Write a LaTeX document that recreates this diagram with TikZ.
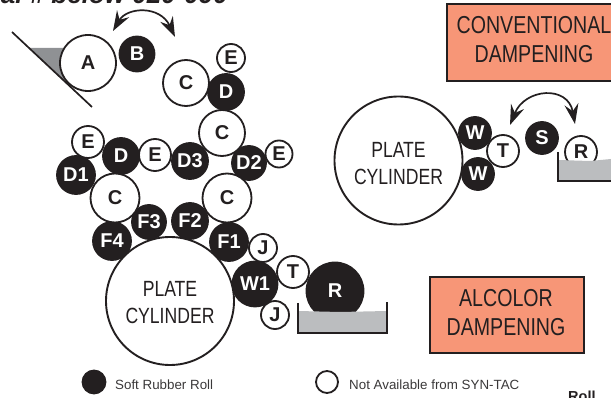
\documentclass[tikz,border=0pt]{standalone}
\usepackage{graphicx}
\usepackage{fontspec}
\setmainfont{Liberation Sans}
\usetikzlibrary{arrows.meta}
\definecolor{ink}{HTML}{231F20}
\definecolor{salmon}{HTML}{F79677}
\definecolor{bath}{HTML}{BBBDBF}
\definecolor{wedge}{HTML}{8F9194}
\definecolor{legendgray}{HTML}{3A3839}
\tikzset{
  softroll/.style={circle,draw=ink,fill=ink,line width=1.8pt,inner sep=0pt,text=white,font=\fontsize{20}{20}\selectfont\bfseries},
  hardroll/.style={circle,draw=ink,fill=white,line width=1.8pt,inner sep=0pt,text=ink,font=\fontsize{20}{20}\selectfont\bfseries},
  platecyl/.style={circle,draw=ink,fill=white,line width=1.9pt,inner sep=0pt,minimum size=128pt},
  platetext/.style={text=ink,font=\fontsize{22}{27}\selectfont,align=center},
  titlebox/.style={draw=ink,fill=salmon,line width=2pt,inner sep=0pt},
  boxtext/.style={text=ink,font=\fontsize{24.5}{29}\selectfont,align=center},
  legendtext/.style={text=legendgray,font=\fontsize{13.35}{13.35}\selectfont,anchor=base west},
  swing/.style={draw=ink,line width=1.7pt,{Stealth[length=20pt,width=14pt,inset=7pt]}-{Stealth[length=20pt,width=14pt,inset=7pt]}},
  tray/.style={draw=ink,line width=1.8pt}
}
\newcommand{\narrow}[1]{\scalebox{0.8}[1]{#1}}
\begin{document}
\begin{tikzpicture}[x=1pt,y=-1pt]
\useasboundingbox (0,0) rectangle (611,398);
\clip (0,0) rectangle (611,398);
% clipped heading
\node[anchor=base east,inner sep=0pt,text=ink,font=\fontsize{26}{26}\selectfont\bfseries\itshape] (heading) at (228,4) {ial \# below 020-090};
% doctor blade and wedge
\fill[wedge] (30,48) -- (68,48) -- (68,80) -- (63,80) -- cycle;
\coordinate (bladetop) at (12,32);
\coordinate (bladeend) at (92,107);
\draw[ink,line width=1.7pt] (bladetop) -- (bladeend);
% left arrow
\coordinate (swingAa) at (113,31);
\coordinate (swingAb) at (175,37);
\draw[swing] (swingAa) .. controls (127,7) and (160,5) .. (swingAb);
% soft rolls
\node[softroll,minimum size=35pt] (B) at (137,54) {B};
\node[softroll,minimum size=36pt] (Dtop) at (226,92) {D};
\node[softroll,minimum size=36pt] (Dmid) at (121,156) {D};
\node[softroll,minimum size=36pt] (D3) at (190,161) {D3};
\node[softroll,minimum size=34pt] (D2) at (249,163) {D2};
\node[softroll,minimum size=38pt] (D1) at (76,175) {D1};
\node[softroll,minimum size=34pt] (F3) at (149,222) {F3};
\node[softroll,minimum size=36pt] (F2) at (190,221) {F2};
\node[softroll,minimum size=38pt] (F4) at (112,241) {F4};
\node[softroll,minimum size=38pt] (F1) at (229,242) {F1};
\node[softroll,minimum size=45pt] (W1) at (255,284) {W1};
% hard rolls
\node[hardroll,minimum size=56pt] (A) at (88,63) {A};
\node[hardroll,minimum size=46pt] (Ca) at (186,83) {C};
\node[hardroll,minimum size=28pt] (Ea) at (231,58) {E};
\node[hardroll,minimum size=46pt] (Cb) at (222,133) {C};
\node[hardroll,minimum size=32pt] (Eb) at (88,142) {E};
\node[hardroll,minimum size=32pt] (Ec) at (155,155) {E};
\node[hardroll,minimum size=27pt] (Ed) at (279,154) {E};
\node[hardroll,minimum size=49pt] (Cc) at (115,198) {C};
\node[hardroll,minimum size=49pt] (Cd) at (227,198) {C};
\node[hardroll,minimum size=28pt] (Ja) at (263,248) {J};
\node[hardroll,minimum size=32pt] (Ta) at (293,272) {T};
\node[hardroll,minimum size=28pt] (Jb) at (275,315) {J};
\node[platecyl] (plateA) at (170,301) {};
\node[platetext] (plateAtext) at (170,303) {\narrow{PLATE}\\\narrow{CYLINDER}};
% alcolor pan
\node[softroll,minimum size=57pt,yshift=1pt] (Ra) at (335,292) {R};
\fill[bath] (298,311) -- (340,312) -- (387,311) -- (387,333) -- (298,333) -- cycle;
\draw[tray] (298,303) -- (298,333) -- (387,333) -- (387,302);
% conventional unit
\node[platecyl] (plateB) at (398.5,160.5) {};
\node[platetext] (plateBtext) at (398.5,163.5) {\narrow{PLATE}\\\narrow{CYLINDER}};
\node[softroll,minimum size=32pt] (Wa) at (475,133) {W};
\node[softroll,minimum size=32pt] (Wb) at (478,174) {W};
\node[hardroll,minimum size=32pt] (Tb) at (503,151) {T};
\node[softroll,minimum size=32pt] (S) at (542,138) {S};
\node[hardroll,minimum size=32pt] (Rb) at (581,152) {R};
\fill[bath] (558,160) -- (590,161) -- (611,159) -- (611,181) -- (558,181) -- cycle;
\draw[tray] (558,152) -- (558,181) -- (612,181);
\coordinate (swingBa) at (510,125);
\coordinate (swingBb) at (575,124);
\draw[swing] (swingBa) .. controls (525,88) and (568,85) .. (swingBb);
% boxes
\node[titlebox,minimum width=180pt,minimum height=77pt,anchor=north west] (conv) at (446,3) {};
\node[boxtext] (convtext) at (534,40) {\narrow{CONVENTIONAL}\\\narrow{DAMPENING}};
\node[titlebox,minimum width=154pt,minimum height=76pt,anchor=north west] (alc) at (429,276) {};
\node[boxtext] (alctext) at (506,312.5) {\narrow{ALCOLOR}\\\narrow{DAMPENING}};
% legend
\node[softroll,minimum size=23pt] (keysoft) at (94,382) {};
\node[hardroll,minimum size=22pt] (keyhard) at (327,382) {};
\node[legendtext,inner sep=0pt] (softlabel) at (115,389) {Soft Rubber Roll};
\node[legendtext,inner sep=0pt] (hardlabel) at (349,389) {Not Available from SYN-TAC};
\node[anchor=base west,inner sep=0pt,text=ink,font=\fontsize{14.5}{14.5}\selectfont\bfseries] (rolllabel) at (568,401.5) {Roll};
\end{tikzpicture}
\end{document}
